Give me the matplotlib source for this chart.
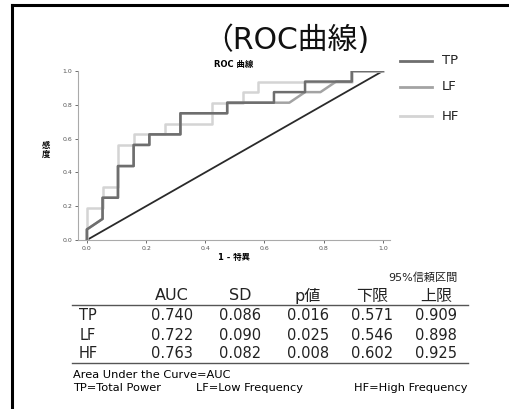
import matplotlib.pyplot as plt
from matplotlib.lines import Line2D

plt.rcParams['font.family'] = ['DejaVu Sans', 'Noto Sans CJK JP']

# ROC curve vertices (1 - specificity, sensitivity)
tp_fpr = [0, 0, 0.053, 0.053, 0.105, 0.105, 0.158, 0.158, 0.211, 0.211, 0.316, 0.316,
          0.474, 0.474, 0.632, 0.632, 0.737, 0.737, 0.895, 0.895, 1.0]
tp_tpr = [0, 0.0625, 0.125, 0.25, 0.25, 0.4375, 0.4375, 0.5625, 0.5625, 0.625, 0.625, 0.75,
          0.75, 0.8125, 0.8125, 0.875, 0.875, 0.9375, 0.9375, 1.0, 1.0]

lf_fpr = [0, 0, 0.053, 0.053, 0.105, 0.105, 0.158, 0.158, 0.211, 0.211, 0.316, 0.316,
          0.474, 0.474, 0.684, 0.737, 0.789, 0.842, 0.895, 0.895, 1.0]
lf_tpr = [0, 0.0625, 0.125, 0.25, 0.25, 0.4375, 0.4375, 0.5625, 0.5625, 0.625, 0.625, 0.75,
          0.75, 0.8125, 0.8125, 0.875, 0.875, 0.9375, 0.9375, 1.0, 1.0]

hf_fpr = [0, 0, 0.053, 0.053, 0.105, 0.105, 0.158, 0.158, 0.263, 0.263, 0.421, 0.421,
          0.526, 0.526, 0.579, 0.579, 0.895, 0.895, 1.0]
hf_tpr = [0, 0.1875, 0.1875, 0.3125, 0.3125, 0.5625, 0.5625, 0.625, 0.625, 0.6875, 0.6875, 0.8125,
          0.8125, 0.875, 0.875, 0.9375, 0.9375, 1.0, 1.0]

ref_line = [0, 1]
ticks = [0.0, 0.2, 0.4, 0.6, 0.8, 1.0]

# summary table
row_names = ['TP', 'LF', 'HF']
col_names = ['AUC', 'SD', 'p値', '下限', '上限']
auc = ['0.740', '0.722', '0.763']
sd = ['0.086', '0.090', '0.082']
pval = ['0.016', '0.025', '0.008']
lower = ['0.571', '0.546', '0.602']
upper = ['0.909', '0.898', '0.925']
notes = ['TP=Total Power', 'LF=Low Frequency', 'HF=High Frequency']

series_colors = {'TP': '#6e6e6e', 'LF': '#a3a3a3', 'HF': '#d4d4d4'}

fig = plt.figure(figsize=(5.10, 4.09), dpi=100)
W, H = 510, 409


def fx(px):
    return px / W


def fy(py):
    return 1 - py / H


# frame lines on the left and top
fig.add_artist(Line2D([fx(12), fx(12)], [fy(5), 0], color='black', lw=2.2))
fig.add_artist(Line2D([fx(12), 1], [fy(5), fy(5)], color='black', lw=2.2))

fig.text(fx(286), fy(40), '（ROC曲線)', ha='center', va='center', fontsize=21.5,
         color='#111111')

ax = fig.add_axes([fx(78), fy(240), (390 - 78) / W, (240 - 71) / H])
ax.plot(ref_line, ref_line, color='#2a2a2a', lw=1.3)
ax.plot(hf_fpr, hf_tpr, color=series_colors['HF'], lw=1.8)
ax.plot(lf_fpr, lf_tpr, color=series_colors['LF'], lw=1.8)
ax.plot(tp_fpr, tp_tpr, color=series_colors['TP'], lw=1.8)
ax.set_xlim(-0.03, 1.024)
ax.set_ylim(0, 1.0)
ax.set_xticks(ticks)
ax.set_yticks(ticks)
ax.set_xticklabels([f'{t:.1f}' for t in ticks])
ax.set_yticklabels([f'{t:.1f}' for t in ticks])
ax.tick_params(labelsize=4.5, colors='#555555', length=2.5, width=0.6, pad=1.5)
for s in ['top', 'right']:
    ax.spines[s].set_visible(False)
for s in ['left', 'bottom']:
    ax.spines[s].set_color('#aaaaaa')
    ax.spines[s].set_linewidth(0.8)
ax.set_title('ROC 曲線', fontsize=6, fontweight='bold', pad=3)
ax.set_xlabel('1 - 特異', fontsize=6, fontweight='bold', labelpad=2)
fig.text(fx(46), fy(150), '感\n度', ha='center', va='center', fontsize=6,
         fontweight='bold', linespacing=1.0)

# legend on the right
for name, py in zip(row_names, [61, 87, 116]):
    fig.add_artist(Line2D([fx(400), fx(432)], [fy(py), fy(py)],
                          color=series_colors[name], lw=2.0))
    fig.text(fx(442), fy(py), name, ha='left', va='center', fontsize=9.5,
             color='#222222')

# table
col_x = [172, 240, 308, 372, 436]
fig.text(fx(423), fy(278), '95%信頼区間', ha='center', va='center', fontsize=8,
         color='#222222')
for name, px in zip(col_names, col_x):
    fig.text(fx(px), fy(296), name, ha='center', va='center', fontsize=11.5,
             color='#222222')
fig.add_artist(Line2D([fx(72), fx(468)], [fy(305), fy(305)], color='#555555', lw=1.0))
columns = [auc, sd, pval, lower, upper]
for i, (name, py) in enumerate(zip(row_names, [316, 335, 353])):
    fig.text(fx(88), fy(py), name, ha='center', va='center', fontsize=10.5,
             color='#222222')
    for col, px in zip(columns, col_x):
        fig.text(fx(px), fy(py), col[i], ha='center', va='center', fontsize=10.5,
                 color='#222222')
fig.add_artist(Line2D([fx(72), fx(468)], [fy(363), fy(363)], color='#555555', lw=1.0))

fig.text(fx(73), fy(375), 'Area Under the Curve=AUC', ha='left', va='center',
         fontsize=8.2)
for note, px in zip(notes, [73, 196, 354]):
    fig.text(fx(px), fy(388), note, ha='left', va='center', fontsize=8.2)

fig.savefig('out.png', dpi=100)
